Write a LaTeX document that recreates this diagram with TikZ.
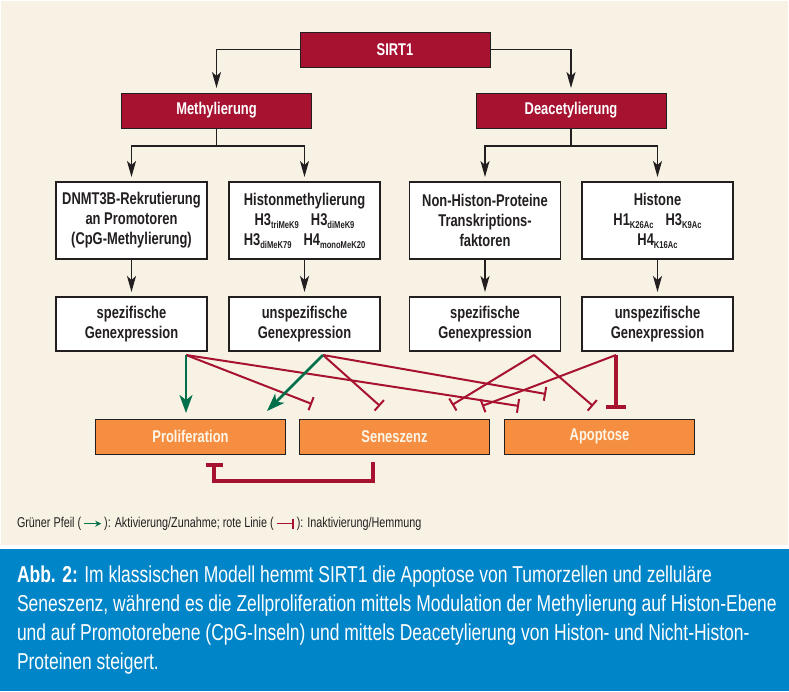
\documentclass[tikz,border=0pt]{standalone}
\usepackage{fontspec}
\setmainfont{Liberation Sans}[FakeStretch=0.76]
\usetikzlibrary{arrows.meta,calc}
\definecolor{cream}{RGB}{248,242,228}
\definecolor{dred}{RGB}{166,18,48}
\definecolor{org}{RGB}{246,142,66}
\definecolor{dgreen}{RGB}{0,112,74}
\definecolor{capblue}{RGB}{0,133,200}
\definecolor{ink}{RGB}{35,31,32}
\definecolor{boxtxt}{RGB}{253,245,230}
\newcommand\sbs[1]{\raisebox{-3pt}{\fontsize{10}{10}\selectfont #1}}
\begin{document}
\begin{tikzpicture}[x=1pt,y=-1pt, line join=miter,
  every node/.style={inner sep=0pt, outer sep=0pt},
  hdr/.style={draw=ink, line width=0.8pt, fill=dred, text=white, minimum width=190pt, minimum height=36pt, font=\fontsize{17}{20}\selectfont\bfseries},
  wbox/.style={draw=ink, line width=1.2pt, fill=white, text=ink, minimum width=151pt, align=center, font=\fontsize{17}{20}\selectfont\bfseries},
  lvlthree/.style={wbox, minimum height=77pt},
  lvlfour/.style={wbox, minimum height=54pt},
  obox/.style={draw=ink, line width=1pt, fill=org, text=boxtxt, minimum width=190pt, minimum height=35pt, font=\fontsize{17}{20}\selectfont\bfseries},
  blk/.style={draw=ink, line width=1.3pt, -{Stealth[length=16pt,width=9pt,inset=4pt]}, shorten >=5pt},
  act/.style={draw=dgreen, line width=2.5pt, -{Stealth[length=18pt,width=13pt,inset=5pt]}},
  inh/.style={draw=dred, line width=2pt, -{Bar[width=14pt]}},
  inhthick/.style={draw=dred, line width=4.5pt, -{Bar[width=20pt]}},
  brk/.style={draw=dred, line width=3.5pt, -{Bar[width=17pt]}},
]
\useasboundingbox (0,0) rectangle (789,691);
\fill[white] (0,0) rectangle (789,691);
\fill[cream] (1,1) rectangle (788,545);
\fill[capblue] (0,549) rectangle (789,691);

% header boxes
\node[hdr, minimum height=35pt] (sirt) at (395,49.5) {SIRT1};
\node[hdr, minimum height=35pt] (meth) at (216.5,110.5) {Methylierung};
\node[hdr, minimum height=35pt] (deac) at (571,110.5) {Deacetylierung};

% level 3
\node[lvlthree] (ta) at (131.5,220.5) {DNMT3B-Rekrutierung\\an Promotoren\\(CpG-Methylierung)};
\node[lvlthree] (tb) at (304.5,220.5) {Histonmethylierung\\H3\sbs{triMeK9}\hspace{12pt}H3\sbs{diMeK9}\\H3\sbs{diMeK79}\hspace{12pt}H4\sbs{monoMeK20}};
\node[lvlthree] (tc) at (485,220.5) {Non-Histon-Proteine\\Transkriptions-\\faktoren};
\node[lvlthree] (td) at (657.5,220.5) {Histone\\H1\sbs{K26Ac}\hspace{12pt}H3\sbs{K9Ac}\\H4\sbs{K16Ac}};

% level 4
\node[lvlfour] (fa) at (131.5,324) {spezifische\\Genexpression};
\node[lvlfour] (fb) at (304.5,324) {unspezifische\\Genexpression};
\node[lvlfour] (fc) at (485,324) {spezifische\\Genexpression};
\node[lvlfour] (fd) at (657.5,324) {unspezifische\\Genexpression};

% outcome boxes
\node[obox] (prol) at (190.5,436.5) {Proliferation};
\node[obox] (sen) at (394.5,436.5) {Seneszenz};
\node[obox] (apo) at (599.5,436.5) {Apoptose};

% black arrows
\draw[blk] (sirt.west) -| (meth.north);
\draw[blk] (sirt.east) -| (deac.north);
\draw[blk] (meth.south) -- ++(0,18) -| (ta.north);
\draw[blk] (meth.south) -- ++(0,18) -| (tb.north);
\draw[blk] (deac.south) -- ++(0,18) -| (tc.north);
\draw[blk] (deac.south) -- ++(0,18) -| (td.north);
\draw[blk] (ta.south) -- (fa.north);
\draw[blk] (tb.south) -- (fb.north);
\draw[blk] (tc.south) -- (fc.north);
\draw[blk] (td.south) -- (fd.north);

% sources and ends
\coordinate (s1) at ($(fa.south)+(54.5,4)$);
\coordinate (s2) at ($(fb.south)+(18.5,4)$);
\coordinate (s3) at ($(fc.south)+(49,4)$);
\coordinate (s4) at ($(fd.south)+(-41.5,4)$);
\coordinate (g1) at (186,413);
\coordinate (g2) at (267,411);
\coordinate (e1s) at (312,404);
\coordinate (e1a) at (519,406);
\coordinate (e2s) at (380,406);
\coordinate (e2a) at (546,394);
\coordinate (e3s) at (452,405);
\coordinate (e3a) at (593,406);
\coordinate (e4s) at (482,406);
\coordinate (e4a) at (616,409);

\draw[inh] (s1) -- (e1a);
\draw[inh] (s1) -- (e1s);
\draw[inh] (s2) -- (e2a);
\draw[inh] (s2) -- (e2s);
\draw[inh] (s3) -- (e3s);
\draw[inh] (s3) -- (e3a);
\draw[inh] (s4) -- (e4s);
\draw[inhthick] (s4) -- (e4a);
\draw[act] (s1) -- (g1);
\draw[act] (s2) -- (g2);

% bracket Seneszenz -| Proliferation
\coordinate (bs) at ($(sen.south)+(-21.5,8)$);
\coordinate (be) at ($(prol.south)+(23.5,9)$);
\draw[brk] (bs) -- ++(0,19) -| (be);

% legend
\node[anchor=west, text=ink, font=\fontsize{14.2}{16}\selectfont] (leg) at (17,524) {Grüner Pfeil (\,\tikz[baseline=-4pt]\draw[dgreen,line width=1.3pt,-{Stealth[length=6pt,width=6pt]}] (0pt,0pt)--(17pt,0pt);\,): Aktivierung/Zunahme; rote Linie (\,\tikz[baseline=-4pt]\draw[dred,line width=1.3pt,-{Bar[width=10pt]}] (0pt,0pt)--(17pt,0pt);\,): Inaktivierung/Hemmung};

% caption
\node[anchor=north west, text=white, align=left, font=\fontsize{23}{29}\selectfont] (cap) at (17,566) {\textbf{Abb. 2:} Im klassischen Modell hemmt SIRT1 die Apoptose von Tumorzellen und zelluläre\\Seneszenz, während es die Zellproliferation mittels Modulation der Methylierung auf Histon-Ebene\\und auf Promotorebene (CpG-Inseln) und mittels Deacetylierung von Histon- und Nicht-Histon-\\Proteinen steigert.};
\end{tikzpicture}
\end{document}
